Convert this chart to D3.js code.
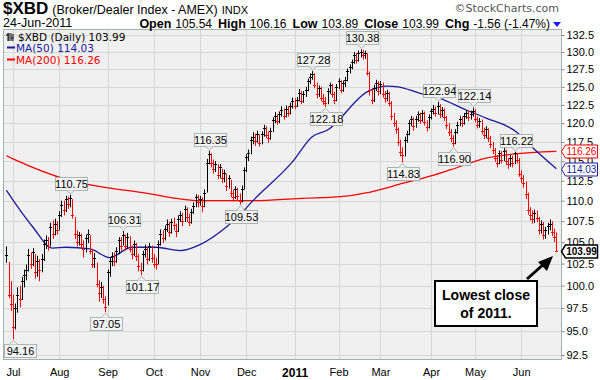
<!DOCTYPE html>
<html>
<head>
<meta charset="utf-8">
<script src="https://cdn.jsdelivr.net/npm/d3@7"></script>
<style>
  body { margin: 0; background: #fff; }
  svg { display: block; }
</style>
</head>
<body>
<div id="chart"></div>
<script>
// Daily bars 28-Jun-2010 .. 24-Jun-2011
const closes = [
  103.5, 99.0, 98.0, 95.5, 97.5, 99.0, 98.5, 100.5, 101.2, 101.8,
  103.5, 102.5, 103.8, 101.5, 102.8, 101.8, 103.0, 104.8, 105.3, 104.6,
  106.8, 106.0, 107.2, 106.5, 108.2, 109.5, 108.8, 110.2, 109.6, 110.3,
  108.3, 106.0, 105.0, 105.8, 104.8, 104.2, 105.5, 106.0, 104.0, 102.5,
  103.2, 100.2, 99.2, 99.8, 98.5, 97.6, 101.5, 102.8, 103.4, 102.8,
  104.0, 105.2, 104.6, 105.8, 104.5, 105.6, 104.2, 103.6, 104.8, 103.4,
  102.2, 101.8, 103.6, 104.2, 103.0, 104.5, 103.2, 102.5, 102.4, 104.8,
  106.0, 105.5, 106.6, 107.2, 106.2, 107.4, 107.0, 106.3, 107.8, 108.2,
  107.5, 109.0, 108.0, 107.4, 108.6, 109.4, 110.4, 109.8, 110.2, 109.3,
  111.0, 114.8, 115.9, 114.8, 114.0, 114.6, 113.2, 114.2, 112.8, 113.5,
  111.8, 112.8, 111.0, 110.5, 111.4, 110.6, 110.0, 111.5, 113.8, 115.5,
  116.0, 117.8, 118.2, 117.6, 118.6, 117.4, 118.5, 119.3, 118.4, 118.0,
  119.0, 120.4, 121.0, 120.3, 121.2, 121.8, 121.0, 122.0, 121.4, 122.4,
  123.0, 122.4, 123.2, 124.2, 123.0, 124.0, 124.6, 125.8, 126.4, 126.8,
  125.3, 124.0, 124.8, 123.5, 123.0, 122.8, 124.4, 125.2, 124.0, 123.2,
  125.0, 125.8, 124.6, 125.5, 126.0, 127.2, 127.8, 128.5, 129.6, 128.8,
  129.8, 130.0, 129.5, 129.9, 127.0, 124.5, 123.2, 124.8, 125.6, 124.4,
  125.4, 124.0, 123.4, 124.2, 122.8, 121.0, 120.0, 119.2, 117.5, 116.2,
  115.8, 117.8, 118.6, 120.0, 120.6, 119.6, 120.6, 121.2, 120.4, 121.4,
  120.2, 119.5, 120.8, 121.6, 122.0, 121.4, 122.4, 121.2, 121.8, 120.8,
  119.8, 118.8, 118.0, 117.4, 118.8, 119.8, 120.6, 120.0, 121.0, 121.4,
  120.8, 121.3, 121.6, 120.6, 119.8, 120.3, 119.0, 118.4, 119.2, 118.0,
  117.2, 116.4, 115.4, 114.8, 116.0, 115.2, 116.3, 115.0, 114.6, 115.4,
  114.7, 116.0, 115.2, 113.4, 112.9, 112.2, 110.8, 108.8, 108.2, 107.8,
  108.5, 107.9, 106.4, 107.2, 105.8, 106.4, 106.9, 107.2, 106.2, 105.55,
  103.99
];

const highs = [
  104.5, 102.7, 100.5, 99.0, 98.0, 99.8, 100.0, 101.0, 101.8, 102.4,
  104.2, 103.8, 104.3, 103.6, 103.4, 103.0, 103.6, 105.3, 105.8, 105.6,
  107.3, 107.6, 107.8, 107.5, 108.7, 110.0, 110.0, 110.6, 110.5, 110.75,
  110.2, 108.0, 106.4, 106.2, 106.0, 105.2, 105.9, 106.5, 105.8, 104.2,
  103.7, 102.6, 100.6, 100.4, 100.0, 98.8, 101.8, 103.2, 103.8, 103.8,
  104.4, 105.6, 105.6, 106.31, 105.9, 106.1, 105.7, 104.6, 105.2, 104.9,
  103.6, 102.6, 104.0, 104.7, 104.4, 104.9, 104.6, 103.6, 103.2, 105.2,
  106.5, 106.4, 107.0, 107.7, 107.4, 107.8, 107.9, 107.2, 108.2, 108.7,
  108.5, 109.4, 109.2, 108.4, 109.0, 109.8, 110.8, 110.7, 110.6, 110.4,
  111.4, 115.3, 116.35, 116.0, 115.2, 115.0, 114.6, 114.6, 114.0, 113.9,
  113.4, 113.2, 112.6, 111.4, 111.8, 111.6, 110.9, 111.9, 114.2, 115.9,
  116.5, 118.2, 118.8, 118.6, 119.0, 118.5, 118.9, 119.8, 119.6, 118.9,
  119.4, 120.8, 121.5, 121.2, 121.6, 122.3, 122.0, 122.4, 122.3, 122.8,
  123.5, 123.4, 123.6, 124.7, 124.4, 124.4, 125.0, 126.2, 126.9, 127.28,
  126.9, 125.6, 125.2, 125.0, 124.0, 123.6, 124.8, 125.6, 125.4, 124.3,
  125.4, 126.2, 125.9, 125.9, 126.4, 127.6, 128.2, 128.9, 130.0, 129.8,
  130.2, 130.38, 130.3, 130.2, 129.8, 127.2, 124.8, 125.3, 126.0, 125.8,
  125.8, 125.6, 124.4, 124.6, 124.3, 123.0, 121.4, 120.4, 119.4, 117.8,
  116.8, 118.2, 119.0, 120.4, 121.0, 120.8, 121.0, 121.6, 121.4, 121.8,
  121.6, 120.4, 121.2, 122.0, 122.5, 122.3, 122.94, 122.6, 122.2, 122.0,
  121.0, 120.0, 119.2, 118.4, 119.2, 120.2, 121.0, 120.9, 121.4, 121.8,
  121.7, 121.7, 122.14, 121.9, 120.9, 120.7, 120.5, 119.4, 119.6, 119.3,
  118.3, 117.5, 116.7, 115.8, 116.4, 116.3, 116.7, 116.5, 115.4, 115.8,
  115.7, 116.22, 116.0, 115.4, 113.8, 113.2, 112.4, 111.0, 109.2, 108.8,
  108.9, 108.8, 108.0, 107.6, 107.4, 106.8, 107.3, 107.7, 107.5, 106.6,
  106.16
];

const lows = [
  102.6, 98.6, 97.2, 94.16, 95.2, 97.0, 97.6, 98.4, 99.8, 100.6,
  101.6, 101.9, 102.2, 100.8, 101.0, 100.5, 101.5, 102.8, 104.2, 104.0,
  104.5, 105.4, 105.8, 105.9, 106.4, 108.0, 108.2, 108.6, 109.0, 109.2,
  107.8, 105.4, 104.5, 104.6, 104.2, 103.2, 103.8, 104.9, 103.6, 102.0,
  102.0, 99.8, 98.2, 98.6, 98.0, 97.05, 97.8, 101.0, 102.2, 102.2,
  102.6, 103.6, 104.0, 104.6, 104.0, 104.2, 103.8, 103.0, 103.4, 102.8,
  101.6, 101.17, 101.6, 103.2, 102.4, 102.8, 102.6, 102.0, 101.8, 102.4,
  104.6, 104.9, 105.2, 106.2, 105.6, 106.0, 106.4, 105.6, 106.2, 107.4,
  106.9, 107.4, 107.4, 106.9, 107.2, 108.4, 109.2, 109.2, 109.4, 108.6,
  109.2, 111.0, 114.6, 114.2, 113.4, 113.6, 112.7, 112.8, 112.2, 112.3,
  111.2, 111.5, 110.4, 109.9, 110.2, 110.0, 109.53, 109.8, 111.4, 113.6,
  115.0, 115.9, 117.2, 117.0, 117.4, 116.9, 117.2, 118.2, 118.0, 117.4,
  117.8, 118.8, 120.0, 119.8, 120.0, 120.9, 120.5, 120.8, 120.9, 121.2,
  122.0, 121.9, 122.2, 123.0, 122.6, 122.8, 123.6, 124.4, 125.4, 126.0,
  124.8, 123.4, 123.6, 123.0, 122.5, 122.18, 122.6, 124.0, 123.5, 122.6,
  123.0, 124.7, 124.1, 124.3, 125.0, 125.8, 126.9, 127.5, 128.3, 128.3,
  128.6, 129.2, 128.9, 129.0, 126.6, 123.8, 122.6, 122.9, 124.4, 123.8,
  124.0, 123.5, 122.8, 123.0, 122.3, 120.4, 119.5, 118.6, 117.0, 115.6,
  114.83, 115.6, 117.4, 118.4, 119.6, 119.0, 119.4, 120.2, 119.9, 120.2,
  119.7, 118.9, 119.3, 120.5, 121.2, 120.9, 121.2, 120.7, 120.8, 120.3,
  119.2, 118.3, 117.5, 116.90, 117.2, 118.6, 119.6, 119.5, 119.8, 120.6,
  120.3, 120.5, 120.9, 120.1, 119.3, 119.4, 118.5, 117.9, 118.0, 117.5,
  116.7, 115.9, 114.9, 114.2, 114.6, 114.7, 115.0, 114.5, 114.0, 114.3,
  114.2, 114.6, 114.7, 113.0, 112.2, 111.6, 110.2, 108.3, 107.6, 107.2,
  107.3, 107.4, 105.9, 106.0, 105.3, 105.4, 105.9, 106.4, 105.7, 105.0,
  103.89
];

// Moving averages at these bar indices
const ma50Idx = [0, 5, 12, 21, 27, 38, 47, 57, 68, 79, 88, 100, 106, 111, 130, 139, 146, 164, 173, 178, 188, 197, 209, 218, 232, 239, 250];
const ma50Vals = [111.3, 109.3, 106.8, 104.3, 104.4, 104.2, 103.2, 104.4, 104.4, 104.0, 104.7, 106.8, 108.2, 109.7, 114.9, 118.2, 119.1, 124.3, 125.1, 125.0, 124.1, 123.4, 121.8, 120.7, 118.8, 116.8, 114.03];
const ma200Idx = [0, 3, 28, 62, 88, 111, 134, 152, 164, 170, 178, 193, 202, 218, 230, 250];
const ma200Vals = [115.7, 115.3, 112.6, 111.0, 110.0, 110.0, 110.3, 110.5, 111.0, 111.4, 112.0, 113.1, 113.9, 115.4, 115.9, 116.26];

// Axis ticks
const monthLabels = ['Jul', 'Aug', 'Sep', 'Oct', 'Nov', 'Dec', '2011', 'Feb', 'Mar', 'Apr', 'May', 'Jun'];
const monthIdx = [3, 24, 46, 67, 88, 109, 131, 151, 170, 193, 213, 234];
const yTicks = [92.5, 95, 97.5, 100, 102.5, 105, 107.5, 110, 112.5, 115, 117.5, 120, 122.5, 125, 127.5, 130, 132.5];

// Marked highs and lows
const extremeIdx = [3, 29, 45, 53, 61, 92, 106, 139, 145, 161, 180, 196, 203, 212, 231];
const extremeVals = [94.16, 110.75, 97.05, 106.31, 101.17, 116.35, 109.53, 127.28, 122.18, 130.38, 114.83, 122.94, 116.90, 122.14, 116.22];
const extremeSide = ['below', 'above', 'below', 'above', 'below', 'above', 'below', 'above', 'below', 'above', 'below', 'above', 'below', 'above', 'above'];

// Chart dimensions
const width = 600;
const height = 380;
const plotLeft = 3;
const plotRight = 561;
const plotTop = 29;
const plotBottom = 359;

const svg = d3.select('#chart')
  .append('svg')
  .attr('width', width)
  .attr('height', height)
  .style('font-family', '"Liberation Sans", Arial, sans-serif');

const x = d3.scaleLinear()
  .domain([0, closes.length - 1])
  .range([6.4, 556.4]);

// price axis is logarithmic
const y = d3.scaleLog()
  .domain([92.5, 132.5])
  .range([355, 35]);

svg.append('clipPath').attr('id', 'plotClip')
  .append('rect')
  .attr('x', plotLeft).attr('y', plotTop)
  .attr('width', plotRight - plotLeft).attr('height', plotBottom - plotTop);

// Plot background
svg.append('rect')
  .attr('x', plotLeft).attr('y', plotTop)
  .attr('width', plotRight - plotLeft).attr('height', plotBottom - plotTop)
  .attr('fill', '#f0f0f0');

// Grid
svg.append('g')
  .selectAll('line')
  .data(yTicks)
  .join('line')
  .attr('x1', plotLeft).attr('x2', plotRight)
  .attr('y1', d => Math.round(y(d)) + 0.5).attr('y2', d => Math.round(y(d)) + 0.5)
  .attr('stroke', '#d6d6d6');

svg.append('g')
  .selectAll('line')
  .data(monthIdx)
  .join('line')
  .attr('x1', d => Math.round(x(d)) + 0.5).attr('x2', d => Math.round(x(d)) + 0.5)
  .attr('y1', plotTop).attr('y2', plotBottom)
  .attr('stroke', '#d6d6d6');

// Moving averages
const maLine = d3.line()
  .x(d => x(d[0]))
  .y(d => y(d[1]))
  .curve(d3.curveMonotoneX);

const plot = svg.append('g').attr('clip-path', 'url(#plotClip)');

plot.append('path')
  .datum(ma200Idx.map((d, i) => [d, ma200Vals[i]]))
  .attr('d', maLine)
  .attr('fill', 'none')
  .attr('stroke', '#ff0000')
  .attr('stroke-width', 1.3);

plot.append('path')
  .datum(ma50Idx.map((d, i) => [d, ma50Vals[i]]))
  .attr('d', maLine)
  .attr('fill', 'none')
  .attr('stroke', '#1a1a9c')
  .attr('stroke-width', 1.3);

// Price bars (high-low with close tick), red when close is lower than the day before
plot.append('g')
  .selectAll('path')
  .data(closes)
  .join('path')
  .attr('d', (c, i) => {
    const xi = Math.round(x(i)) + 0.5;
    const yc = Math.round(y(c)) + 0.5;
    return `M${xi},${y(highs[i])}V${y(lows[i])}M${xi - 1.5},${yc}H${xi + 1.5}`;
  })
  .attr('fill', 'none')
  .attr('stroke', (c, i) => (i > 0 && c < closes[i - 1]) ? '#ff0000' : '#000000')
  .attr('stroke-width', 1);

// High / low labels
const labels = svg.append('g').attr('font-size', 11);
extremeIdx.forEach((idx, k) => {
  const px = Math.round(x(idx)) + 0.5;
  const above = extremeSide[k] === 'above';
  const tipY = above ? y(highs[idx]) - 1 : y(lows[idx]) + 1;
  const boxH = 13;
  const boxW = 32;
  const boxTop = above ? tipY - 4 - boxH : tipY + 4;
  let boxX = px - boxW / 2;
  boxX = Math.max(plotLeft + 1, boxX);
  const g = labels.append('g');
  g.append('rect')
    .attr('x', Math.round(boxX) + 0.5).attr('y', Math.round(boxTop) + 0.5)
    .attr('width', boxW).attr('height', boxH)
    .attr('fill', '#f4f4f4')
    .attr('stroke', '#a9b3b3');
  const edge = above ? Math.round(boxTop) + boxH + 0.5 : Math.round(boxTop) + 0.5;
  g.append('path')
    .attr('d', `M${px - 4},${edge}L${px},${tipY}L${px + 4},${edge}`)
    .attr('fill', '#f4f4f4')
    .attr('stroke', '#a9b3b3');
  g.append('text')
    .attr('x', Math.round(boxX) + boxW / 2 + 0.5)
    .attr('y', Math.round(boxTop) + 10.5)
    .attr('text-anchor', 'middle')
    .attr('fill', '#000')
    .text(extremeVals[k].toFixed(2));
});

// Plot border
svg.append('rect')
  .attr('x', plotLeft + 0.5).attr('y', plotTop + 0.5)
  .attr('width', plotRight - plotLeft).attr('height', plotBottom - plotTop)
  .attr('fill', 'none')
  .attr('stroke', '#a3b0b0');

// Right price axis
svg.append('g')
  .attr('transform', `translate(${plotRight + 0.5},0)`)
  .call(d3.axisRight(y).tickValues(yTicks).tickFormat(d3.format('.1f')).tickSize(3).tickPadding(2))
  .call(g => g.select('.domain').remove())
  .call(g => g.selectAll('line').attr('stroke', '#7a8a8a'))
  .call(g => g.selectAll('text').attr('font-size', 11).attr('fill', '#000')
    .style('font-family', '"Liberation Sans", Arial, sans-serif'));

// Bottom month axis
svg.append('g')
  .attr('transform', `translate(0,${plotBottom})`)
  .call(d3.axisBottom(x).tickValues(monthIdx).tickFormat((d, i) => monthLabels[i]).tickSize(0).tickPadding(9))
  .call(g => g.select('.domain').remove())
  .call(g => g.selectAll('text')
    .attr('font-size', (d, i) => monthLabels[i] === '2011' ? 12 : 11)
    .attr('font-weight', (d, i) => monthLabels[i] === '2011' ? 'bold' : 'normal')
    .attr('fill', '#000')
    .style('font-family', '"Liberation Sans", Arial, sans-serif'));

// Last value markers on the right axis
const markers = [
  { v: ma200Vals[ma200Vals.length - 1], color: '#ff0000', bold: false },
  { v: ma50Vals[ma50Vals.length - 1], color: '#1a1a9c', bold: false },
  { v: closes[closes.length - 1], color: '#000000', bold: true }
];
markers.forEach(m => {
  const yc = Math.round(y(m.v)) + 0.5;
  const x0 = plotRight + 0.5;
  const w = 32;
  svg.append('path')
    .attr('d', `M${x0},${yc}L${x0 + 4},${yc - 6.5}H${x0 + 4 + w}V${yc + 6.5}H${x0 + 4}Z`)
    .attr('fill', '#fff')
    .attr('stroke', m.color)
    .attr('stroke-width', m.bold ? 1.5 : 1);
  svg.append('text')
    .attr('x', x0 + 4 + w / 2).attr('y', yc + 3.5)
    .attr('text-anchor', 'middle')
    .attr('font-size', 10)
    .attr('font-weight', m.bold ? 'bold' : 'normal')
    .attr('fill', m.color)
    .text(m.v.toFixed(2));
});

// Title block
const title = svg.append('text').attr('x', 3).attr('y', 14);
title.append('tspan').attr('font-size', 17).attr('font-weight', 'bold').text('$XBD');
title.append('tspan').attr('font-size', 12.5).attr('dx', 4).text('(Broker/Dealer Index - AMEX)');
title.append('tspan').attr('font-size', 11).attr('dx', 4).text('INDX');

svg.append('text').attr('x', 3).attr('y', 27).attr('font-size', 12.5).text('24-Jun-2011');

svg.append('text')
  .attr('x', 559).attr('y', 12)
  .attr('text-anchor', 'end')
  .attr('fill', '#555')
  .style('font-family', '"DejaVu Sans", Verdana, sans-serif')
  .style('font-size', '11px')
  .text('\u00A9StockCharts.com');

const quote = svg.append('text').attr('x', 550).attr('y', 27.5).attr('text-anchor', 'end').attr('font-size', 12);
[['Open', '105.54'], ['High', '106.16'], ['Low', '103.89'], ['Close', '103.99'], ['Chg', '-1.56 (-1.47%)']].forEach((p, i) => {
  quote.append('tspan').attr('font-weight', 'bold').attr('font-size', 12.5).attr('dx', i === 0 ? 0 : 6).text(p[0]);
  quote.append('tspan').attr('dx', 4).text(p[1]);
});
svg.append('path').attr('d', 'M553,22H561L557,27Z').attr('fill', '#1a1aff');

// Legend
const legend = svg.append('g')
  .style('font-family', '"DejaVu Sans", Verdana, sans-serif')
  .attr('font-size', 10.5);
legend.append('path')
  .attr('d', 'M8,33V41M6,35H8M9,33V41M11,33V41M13,34V41M11,38H13')
  .attr('stroke', '#000').attr('fill', 'none');
legend.append('text').attr('x', 18).attr('y', 41).attr('fill', '#000').text('$XBD (Daily) 103.99');
legend.append('line').attr('x1', 7).attr('x2', 15).attr('y1', 47.5).attr('y2', 47.5).attr('stroke', '#1a1a9c').attr('stroke-width', 2);
legend.append('text').attr('x', 16).attr('y', 52).attr('fill', '#1a1a9c').text('MA(50) 114.03');
legend.append('line').attr('x1', 7).attr('x2', 15).attr('y1', 59.5).attr('y2', 59.5).attr('stroke', '#ff0000').attr('stroke-width', 2);
legend.append('text').attr('x', 16).attr('y', 64).attr('fill', '#ff0000').text('MA(200) 116.26');

// Annotation box and arrow
svg.append('rect')
  .attr('x', 435).attr('y', 281)
  .attr('width', 102).attr('height', 45)
  .attr('fill', '#fff')
  .attr('stroke', '#000')
  .attr('stroke-width', 2);
svg.append('text')
  .attr('x', 486).attr('y', 300)
  .attr('text-anchor', 'middle')
  .attr('font-size', 14).attr('font-weight', 'bold')
  .text('Lowest close');
svg.append('text')
  .attr('x', 486).attr('y', 318)
  .attr('text-anchor', 'middle')
  .attr('font-size', 14).attr('font-weight', 'bold')
  .text('of 2011.');
svg.append('line')
  .attr('x1', 527).attr('y1', 279)
  .attr('x2', 545).attr('y2', 263)
  .attr('stroke', '#000').attr('stroke-width', 3);
svg.append('path')
  .attr('d', 'M553,256L538,262L547,271Z')
  .attr('fill', '#000');
</script>
</body>
</html>
